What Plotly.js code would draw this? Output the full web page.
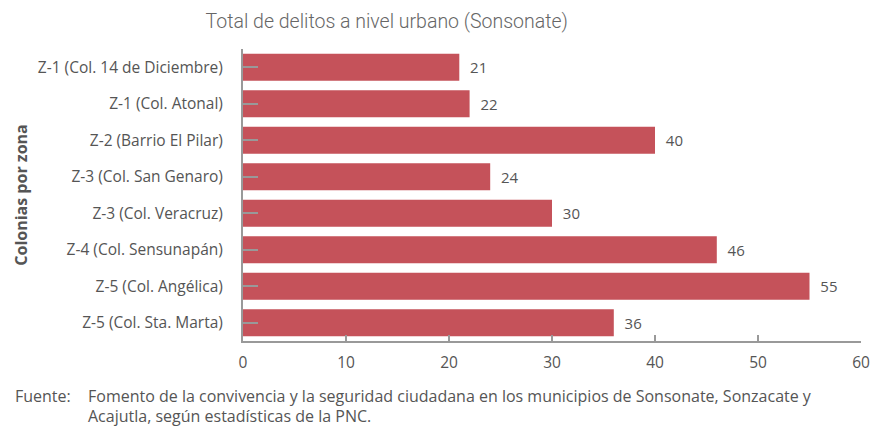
<!DOCTYPE html>
<html><head><meta charset="utf-8">
<script src="https://cdn.plot.ly/plotly-3.0.1.min.js"></script>
<style>html,body{margin:0;padding:0;background:#fff}#c{width:877px;height:428px}</style>
</head><body><div id="c"></div>
<script>
const categories = ["Z-1 (Col. 14 de Diciembre)","Z-1 (Col. Atonal)","Z-2 (Barrio El Pilar)","Z-3 (Col. San Genaro)","Z-3 (Col. Veracruz)","Z-4 (Col. Sensunapán)","Z-5 (Col. Angélica)","Z-5 (Col. Sta. Marta)"];
const values = [21,22,40,24,30,46,55,36];
const xTicks = [0,10,20,30,40,50,60];
const titleText = "Total de delitos a nivel urbano (Sonsonate)";
const yTitle = "Colonias por zona";
const sourceLabel = "Fuente:";
const sourceLines = ["Fomento de la convivencia y la seguridad ciudadana en los municipios de Sonsonate, Sonzacate y",
                     "Acajutla, según estadísticas de la PNC."];

const txtFont = {family:"Open Sans", size:15.5, color:"#555"};
const footFont = {family:"Open Sans", size:16, color:"#555"};
const trace = {
  type:"bar", orientation:"h", x:values, y:categories,
  marker:{color:"#C5525A"}, texttemplate:"  %{x}", textposition:"outside",
  textfont:{family:"Open Sans", size:15, color:"#555"}, cliponaxis:false,
  hoverinfo:"skip"
};
const pw = 877-243-16, ph = 428-49-87;
function px(xp){return (xp-243)/pw;}
function py(yp){return (428-87-yp)/ph;}
const layout = {
  width:877, height:428, margin:{l:243,r:16,t:49,b:87},
  paper_bgcolor:"#fff", plot_bgcolor:"#fff", bargap:0.26, showlegend:false,
  title:{text:titleText, x:0.441, xanchor:"center", y:0.95, yanchor:"middle",
    font:{family:"Roboto", weight:300, size:19.5, color:"#666"}},
  xaxis:{range:[0,60], tickvals:xTicks, ticks:"inside", ticklen:6, tickwidth:2, tickcolor:"#999",
    showline:true, linecolor:"#999", linewidth:2, showgrid:false, zeroline:false,
    tickfont:txtFont, ticklabelstandoff:6, fixedrange:true},
  yaxis:{autorange:"reversed", type:"category", ticks:"inside", ticklen:15, tickwidth:2, tickcolor:"#999",
    showline:true, linecolor:"#999", linewidth:2, showgrid:false, zeroline:false,
    tickfont:txtFont, ticklabelstandoff:15,
    title:{text:"<b>"+yTitle+"</b>", font:{family:"Open Sans", size:16, color:"#555"}, standoff:6}},
  annotations:[
    {text:sourceLabel, xref:"paper", yref:"paper", x:px(13), y:py(396), xanchor:"left", yanchor:"middle", showarrow:false, font:footFont},
    {text:sourceLines[0], xref:"paper", yref:"paper", x:px(86), y:py(396), xanchor:"left", yanchor:"middle", showarrow:false, font:footFont},
    {text:sourceLines[1], xref:"paper", yref:"paper", x:px(86), y:py(416), xanchor:"left", yanchor:"middle", showarrow:false, font:footFont}
  ]
};
Plotly.newPlot("c",[trace],layout,{displayModeBar:false,staticPlot:true});
</script></body></html>
